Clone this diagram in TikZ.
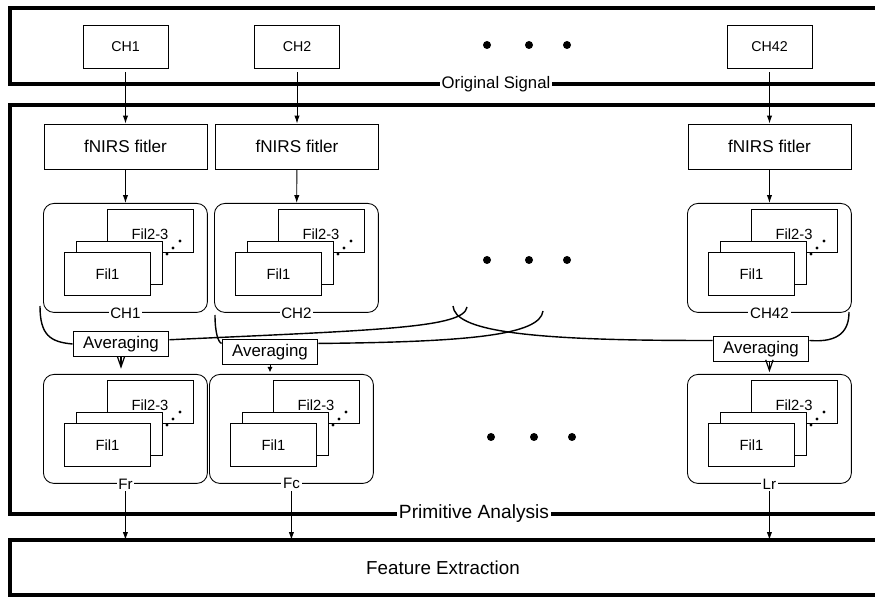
\documentclass[tikz,border=0pt]{standalone}
\usepackage{fontspec}
\setmainfont{Liberation Sans}
\usetikzlibrary{arrows.meta,calc}

\tikzset{
  stagebox/.style={line width=1.8pt},
  stagelabel/.style={fill=white, inner sep=1pt},
  chbox/.style={draw, line width=0.5pt, minimum width=1.7cm, minimum height=0.86cm,
    inner sep=0pt, font=\fontsize{8.1}{9}\selectfont},
  filterbox/.style={draw, line width=0.5pt, minimum width=3.26cm, minimum height=0.9cm,
    inner sep=0pt, font=\fontsize{9.75}{11}\selectfont},
  grpbox/.style={draw, line width=0.5pt, rounded corners=6pt, minimum width=3.28cm,
    minimum height=2.18cm, inner sep=0pt, anchor=north west},
  filbox/.style={draw, line width=0.5pt, fill=white, minimum width=1.72cm,
    minimum height=0.86cm, inner sep=0pt, anchor=north west, font=\fontsize{8.4}{9}\selectfont},
  grplabel/.style={fill=white, inner sep=1pt, font=\fontsize{8.6}{9}\selectfont},
  avgbox/.style={draw, line width=1.1pt, fill=white, minimum width=1.9cm,
    minimum height=0.5cm, inner sep=0pt, font=\fontsize{9.6}{11}\selectfont},
  flow/.style={-{Latex[length=4.5pt,width=3pt]}, line width=0.5pt},
  vtip/.style={-{Straight Barb[length=6pt,width=4.2pt]}, line width=0.7pt},
  hook/.style={line width=0.8pt},
}

\begin{document}
\begin{tikzpicture}[x=0.02cm, y=-0.02cm]
  \useasboundingbox (0,0) rectangle (875,597);
  % Stages
  \draw[stagebox] (10,8) rectangle (890,84);
  \draw[stagebox] (10,105) rectangle (890,514);
  \draw[stagebox] (10,540) rectangle (890,595);
  \coordinate (feattop) at (10,540);
  \node[stagelabel, font=\fontsize{9.5}{11}\selectfont] (origlab) at (496,84) {Original Signal};
  \node[stagelabel, font=\fontsize{10.9}{12}\selectfont] (primlab) at (474,514) {Primitive Analysis};
  \node[font=\fontsize{10.7}{12}\selectfont] (featlab) at (443,568) {Feature Extraction};

  % Channels and filters
  \foreach \name/\cx/\lab in {chA/125.5/CH1, chB/297/CH2, chC/769.5/CH42} {
    \node[chbox] (\name top) at (\cx,46.5) {\lab};
    \node[filterbox] (\name filt) at (\cx,146.5) {fNIRS fitler};
    \draw[flow, shorten <=2.3pt] (\name top) -- (\name filt);
  }
  \foreach \x in {487,529,567} \fill (\x,45) circle (4);

  % Filter banks
  \foreach \name/\gx/\gy/\lab in {chA/43/203/CH1, chB/214/203/CH2, chC/687/203/CH42,
                                  frg/43/374/Fr, fcg/209/374/Fc, lrg/687/374/Lr} {
    \node[grpbox] (\name) at (\gx,\gy) {};
    \node[filbox] (\name back) at ({\gx+64},{\gy+6}) {};
    \node[font=\fontsize{8.4}{9}\selectfont, inner sep=0pt] (\name t) at ({\gx+107},{\gy+31}) {Fil2-3};
    \node[filbox] (\name mid) at ({\gx+33},{\gy+38}) {};
    \node[filbox] (\name front) at ({\gx+21},{\gy+49}) {Fil1};
    \fill ({\gx+124},{\gy+51}) circle (1.6) ({\gx+130},{\gy+45}) circle (1.6)
          ({\gx+137},{\gy+38}) circle (1.6);
    \node[grplabel] (\name lab) at (\name.south) {\lab};
  }
  \foreach \name in {chA, chB, chC} \draw[flow] (\name filt) -- (\name);
  \foreach \x in {487,529,567} \fill (\x,260) circle (4);
  \foreach \x in {491,534,572} \fill (\x,437) circle (4);

  % Averaging
  \node[avgbox] (avgA) at (121,344) {Averaging};
  \node[avgbox] (avgB) at (270,352) {Averaging};
  \node[avgbox] (avgC) at (761,349) {Averaging};
  \coordinate (hA) at (40,306);
  \coordinate (hB) at (467,307);
  \coordinate (hC) at (215,315);
  \coordinate (hD) at (543,311);
  \coordinate (hE) at (453,306);
  \coordinate (hF) at (849,312);
  \draw[hook] (hA) .. controls (40,335) and (50,342) .. (avgA.west);
  \draw[hook] (hB) .. controls (464,328) and (380,330) .. (avgA.5);
  \draw[hook] (hC) .. controls (215,332) and (218,342) .. (avgB.170);
  \draw[hook] (avgB.10) .. controls (470,342) and (540,335) .. (hD);
  \draw[hook] (hE) .. controls (455,330) and (520,341) .. (avgC.170);
  \draw[hook] (avgC.10) .. controls (840,343) and (849,330) .. (hF);
  \draw[vtip, shorten >=3pt] (avgA.south) -- (avgA.south |- frg.north);
  \draw[-{Latex[length=3pt,width=3pt]}, line width=0.5pt, shorten >=1pt]
    (avgB.south) -- (avgB.south |- fcg.north);
  \draw[vtip, shorten >=1pt] (lrg.north |- avgC.south) -- (lrg.north);

  % Into feature extraction
  \foreach \name in {frg, fcg, lrg}
    \draw[flow] (\name lab.south) -- (\name lab.south |- feattop);
\end{tikzpicture}
\end{document}
